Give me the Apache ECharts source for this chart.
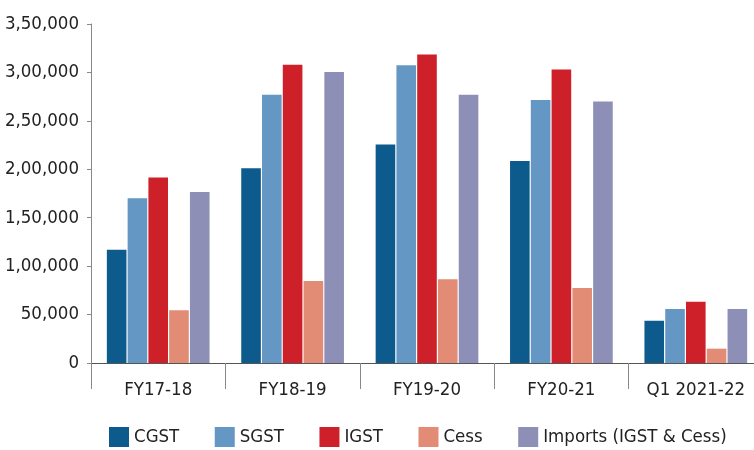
<!DOCTYPE html>
<html>
<head>
<meta charset="utf-8">
<script src="https://cdn.jsdelivr.net/npm/echarts@6/dist/echarts.min.js"></script>
<style>
  html, body { margin: 0; padding: 0; background: #fff; }
</style>
</head>
<body>
<div id="chart" style="width: 754px; height: 450px;"></div>
<script>
const categories = ['FY17-18', 'FY18-19', 'FY19-20', 'FY20-21', 'Q1 2021-22'];
const cgst = [117000, 201000, 225500, 208500, 43700];
const sgst = [170000, 277000, 307500, 271500, 55700];
const igst = [191500, 308000, 318500, 303000, 63300];
const cess = [54500, 84700, 86400, 77400, 14800];
const imports = [176500, 300500, 277000, 270000, 55700];

const seriesNames = ['CGST', 'SGST', 'IGST', 'Cess', 'Imports (IGST & Cess)'];
const colors = ['#0d5a8c', '#6497c3', '#cd2029', '#e28b75', '#8e8fb7'];
const FONT = '"DejaVu Sans Condensed", "Liberation Sans Narrow", sans-serif';

// Indian digit grouping: 3,50,000
function indian(v) {
  let s = String(Math.round(v));
  if (s.length <= 3) return s;
  let last3 = s.slice(-3);
  let rest = s.slice(0, -3);
  rest = rest.replace(/\B(?=(\d{2})+(?!\d))/g, ',');
  return rest + ',' + last3;
}

let myChart = echarts.init(document.getElementById('chart'));
const allData = [cgst, sgst, igst, cess, imports];

myChart.setOption({
  animation: false,
  color: colors,
  grid: {
    left: 91,
    top: 24,
    width: 672,
    height: 339,
    outerBoundsMode: 'none'
  },
  legend: {
    left: 109,
    top: 427,
    padding: 0,
    itemWidth: 20,
    itemHeight: 20,
    itemGap: 35.5,
    icon: 'rect',
    textStyle: { fontFamily: FONT, fontSize: 18.5, color: '#222' },
    data: seriesNames
  },
  xAxis: {
    type: 'category',
    data: categories,
    axisLine: { show: true, lineStyle: { color: '#555', width: 1 } },
    axisTick: { show: true, length: 26, lineStyle: { color: '#888' } },
    axisLabel: { interval: 0, fontFamily: FONT, fontSize: 18.5, color: '#222', margin: 18 }
  },
  yAxis: {
    type: 'value',
    min: 0,
    max: 350000,
    interval: 50000,
    splitLine: { show: false },
    axisLine: { show: true, lineStyle: { color: '#888' } },
    axisTick: { show: true, length: 4, lineStyle: { color: '#888' } },
    axisLabel: {
      fontFamily: FONT,
      fontSize: 18.5,
      color: '#222',
      margin: 12,
      formatter: indian
    }
  },
  series: seriesNames.map((name, i) => ({
    name: name,
    type: 'bar',
    data: allData[i],
    barWidth: 19.6,
    barGap: '6%',
    itemStyle: { color: colors[i] }
  }))
});
</script>
</body>
</html>
